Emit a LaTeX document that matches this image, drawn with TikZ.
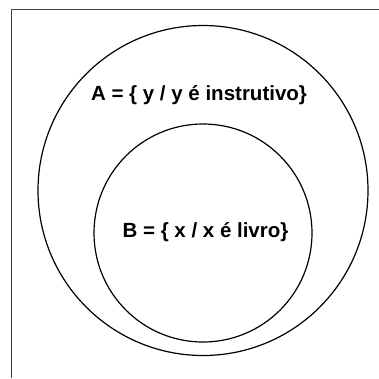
\documentclass[tikz,border=0pt]{standalone}
\usepackage{fontspec}
\setmainfont{Liberation Sans}
\begin{document}
\begin{tikzpicture}[x=1pt,y=-1pt,
  frame/.style={draw=black!75,line width=1pt},
  setc/.style={draw=black,line width=1.2pt},
  lbl/.style={font=\fontsize{20.5}{24}\selectfont\bfseries,anchor=base,inner sep=0pt}]
\useasboundingbox (0,0) rectangle (379,378);
\coordinate (tl) at (11.5,9.5);
\coordinate (tr) at (379,9.5);
\coordinate (bl) at (11.5,378);
\draw[frame] (tr) -- (tl) -- (bl);
\node[setc,circle,minimum size=330pt,inner sep=0pt] (A) at (203,190.5) {};
\node[setc,circle,minimum size=218pt,inner sep=0pt] (B) at (203,233) {};
\node[lbl] (la) at (199,100.3) {A = \{ y / y é instrutivo\}};
\node[lbl] (lb) at (205.5,237) {B = \{ x / x é livro\}};
\end{tikzpicture}
\end{document}
